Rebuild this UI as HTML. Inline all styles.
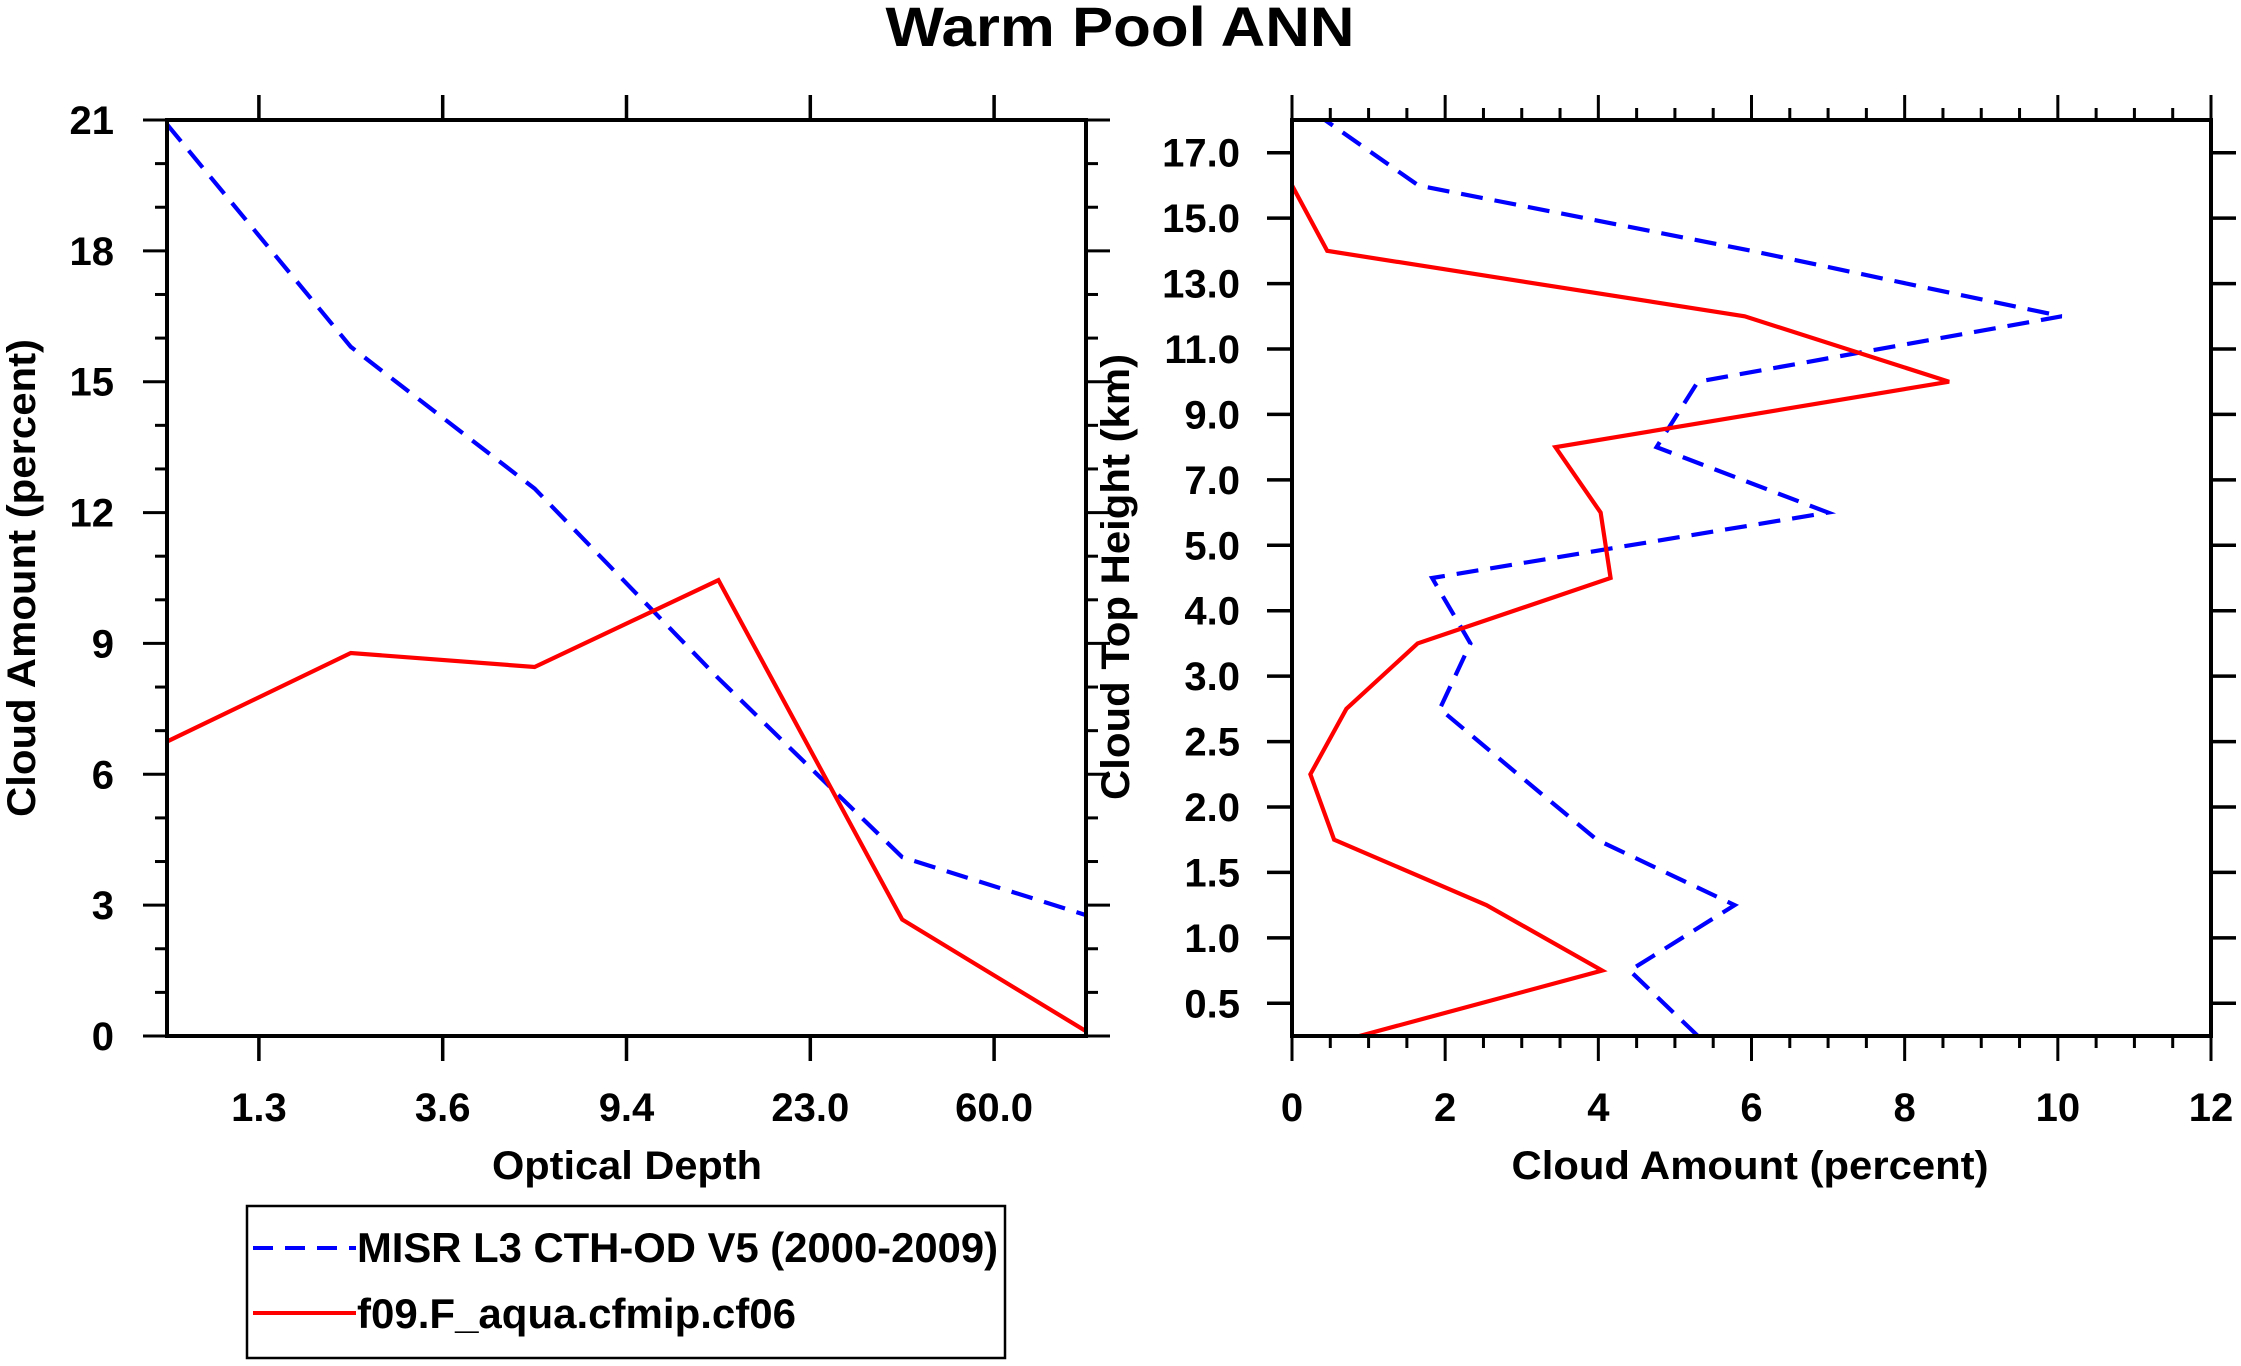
<!DOCTYPE html>
<html><head><meta charset="utf-8"><style>
html,body{margin:0;padding:0;background:#fff;overflow:hidden;}
svg{display:block;font-family:"Liberation Sans",sans-serif;font-weight:bold;}
</style></head><body>
<svg id="chart" width="2241" height="1366" viewBox="0 0 2241 1366" xmlns="http://www.w3.org/2000/svg">
<text x="1120" y="46" text-anchor="middle" font-size="56" textLength="469" lengthAdjust="spacingAndGlyphs">Warm Pool ANN</text>
<g id="left"></g>
<g id="right"></g>
<g>
<rect x="247" y="1206" width="758" height="152" fill="none" stroke="#000" stroke-width="2.5"/>
<line x1="253" y1="1248" x2="356" y2="1248" stroke="#0000ff" stroke-width="4" stroke-dasharray="20,12"/>
<text x="357" y="1262" font-size="42" textLength="641" lengthAdjust="spacingAndGlyphs">MISR L3 CTH-OD V5 (2000-2009)</text>
<line x1="253" y1="1313" x2="356" y2="1313" stroke="#ff0000" stroke-width="4"/>
<text x="357" y="1328" font-size="42" textLength="439" lengthAdjust="spacingAndGlyphs">f09.F_aqua.cfmip.cf06</text>
</g>
</svg>
<script>
const odLabels = ["1.3","3.6","9.4","23.0","60.0"];
const odMisr = [20.9, 15.8, 12.55, 8.2, 4.1, 2.77];
const odModel = [6.75, 8.78, 8.46, 10.45, 2.67, 0.11];
const ampTicks = [0,3,6,9,12,15,18,21];
const cthLabels = ["0.5","1.0","1.5","2.0","2.5","3.0","4.0","5.0","7.0","9.0","11.0","13.0","15.0","17.0"];
const cthMisr = [5.30, 4.41, 5.78, 3.98, 2.95, 1.93, 2.33, 1.83, 7.0, 4.76, 5.30, 10.05, 6.0, 1.65, 0.43];
const cthModel = [0.88, 4.05, 2.54, 0.55, 0.24, 0.71, 1.64, 4.16, 4.03, 3.44, 8.58, 5.91, 0.46, 0.0];
const pctTicks = [0,2,4,6,8,10,12];

const NS = "http://www.w3.org/2000/svg";
function mk(parent, tag, attrs){const e=document.createElementNS(NS,tag);for(const k in attrs)e.setAttribute(k,attrs[k]);parent.appendChild(e);return e;}
function ln(p,x1,y1,x2,y2,w){return mk(p,"line",{x1:x1,y1:y1,x2:x2,y2:y2,stroke:"#000","stroke-width":w});}

const L = document.getElementById("left");
const lx0=167, lx1=1086, ty=120, by=1036;
const lX = i => lx0 + (lx1-lx0)*i/5;
const lY = v => by - (by-ty)*v/21;
for(let v=0; v<=21; v++){
  const major = v%3===0, len = major?24:12;
  ln(L, lx0-len, lY(v), lx0, lY(v), 3);
  ln(L, lx1, lY(v), lx1+len, lY(v), 3);
}
ampTicks.forEach(v=>{
  const t=mk(L,"text",{x:114,y:lY(v)+14,"text-anchor":"end","font-size":40});
  t.textContent=v;
  
  
});
odLabels.forEach((s,i)=>{
  const x=lX(i+0.5);
  ln(L,x,ty-25,x,ty,3.5); ln(L,x,by,x,by+25,3.5);
  const t=mk(L,"text",{x:x,y:1121,"text-anchor":"middle","font-size":40});
  t.textContent=s;
  
  
});
function poly(p,xs,ys,color,dash,name){
  const pts=xs.map((x,i)=>x+","+ys[i]).join(" ");
  const a={points:pts,fill:"none",stroke:color,"stroke-width":4.2,"stroke-linejoin":"miter"};
  if(dash)a["stroke-dasharray"]=dash;
  const e=mk(p,"polyline",a);
  
  
}
poly(L, odMisr.map((v,i)=>lX(i)), odMisr.map(lY), "#0000ff", "22,12", "misr-line-optical-depth");
poly(L, odModel.map((v,i)=>lX(i)), odModel.map(lY), "#ff0000", null, "model-line-optical-depth");
const lf=mk(L,"rect",{x:lx0,y:ty,width:lx1-lx0,height:by-ty,fill:"none",stroke:"#000","stroke-width":4});


let t1=mk(L,"text",{x:627,y:1179,"text-anchor":"middle","font-size":40,textLength:270,lengthAdjust:"spacingAndGlyphs"});
t1.textContent="Optical Depth";


let t2=mk(L,"text",{x:0,y:0,"text-anchor":"middle","font-size":40,textLength:478,lengthAdjust:"spacingAndGlyphs",transform:"translate(35,578) rotate(-90)"});
t2.textContent="Cloud Amount (percent)";



const R = document.getElementById("right");
const rx0=1292, rx1=2211;
const rX = v => rx0 + (rx1-rx0)*v/12;
const rY = i => by - (by-ty)*i/14;
for(let k=0;k<=24;k++){
  const v=k/2, major=k%4===0, len=major?25:12;
  ln(R,rX(v),by,rX(v),by+len,3); ln(R,rX(v),ty-len,rX(v),ty,3);
}
pctTicks.forEach(v=>{
  const t=mk(R,"text",{x:rX(v),y:1121,"text-anchor":"middle","font-size":40});
  t.textContent=v;
  
  
});
cthLabels.forEach((s,i)=>{
  const y=rY(i+0.5);
  ln(R,rx0-25,y,rx0,y,3.5); ln(R,rx1,y,rx1+25,y,3.5);
  const t=mk(R,"text",{x:1240,y:y+14,"text-anchor":"end","font-size":40});
  t.textContent=s;
  
  
});
poly(R, cthMisr.map(rX), cthMisr.map((v,i)=>rY(i)), "#0000ff", "22,12", "misr-line-cloud-top");
poly(R, cthModel.map(rX), cthModel.map((v,i)=>rY(i)), "#ff0000", null, "model-line-cloud-top");
const rf=mk(R,"rect",{x:rx0,y:ty,width:rx1-rx0,height:by-ty,fill:"none",stroke:"#000","stroke-width":4});


let t3=mk(R,"text",{x:1750,y:1179,"text-anchor":"middle","font-size":40,textLength:477,lengthAdjust:"spacingAndGlyphs"});
t3.textContent="Cloud Amount (percent)";


let t4=mk(R,"text",{x:0,y:0,"text-anchor":"middle","font-size":40,textLength:446,lengthAdjust:"spacingAndGlyphs",transform:"translate(1129,577) rotate(-90)"});
t4.textContent="Cloud Top Height (km)";


</script>
</body></html>
